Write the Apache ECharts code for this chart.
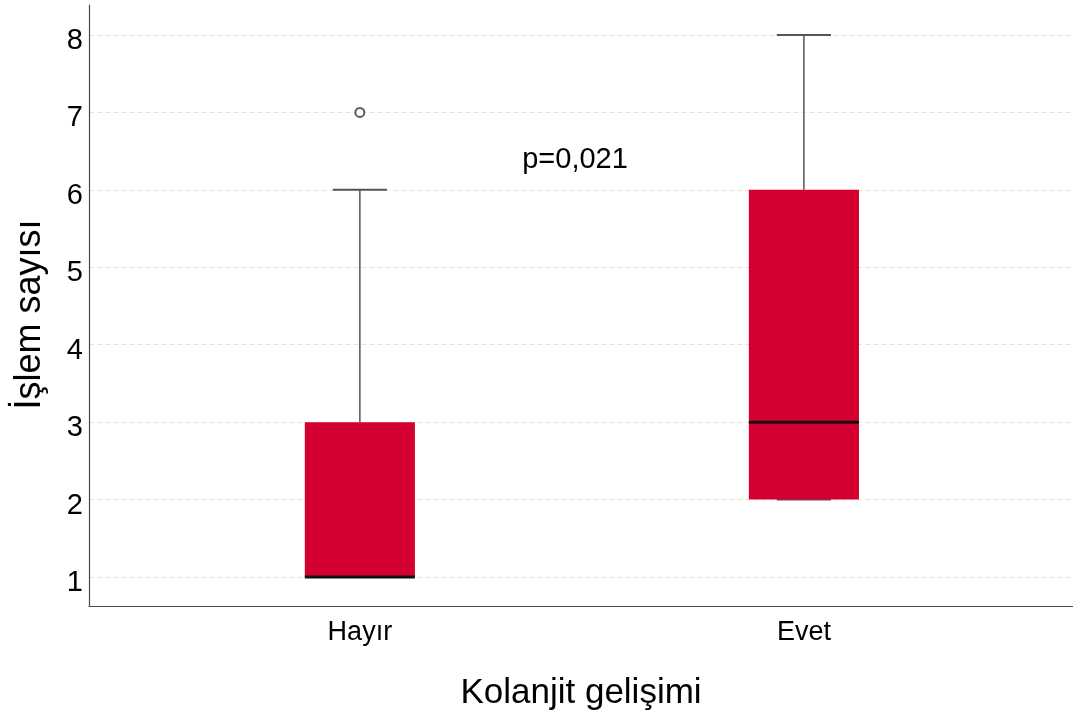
<!DOCTYPE html>
<html>
<head>
<meta charset="utf-8">
<script src="https://cdn.jsdelivr.net/npm/echarts@6/dist/echarts.min.js"></script>
<style>
  html, body { margin: 0; padding: 0; background: #fff; }
  #echarts { width: 1073px; height: 724px; }
</style>
</head>
<body>
<div id="echarts"></div>
<script>
// veriler
var categories = ['Hayır', 'Evet'];
var mins = [1, 2];
var q1s = [1, 2];
var medians = [1, 3];
var q3s = [3, 6];
var maxs = [6, 8];
var outliers = [[1, 7]]; // [kategori no (1'den), değer]
var pText = 'p=0,021';

var boxData = categories.map(function (c, i) {
  return [i + 1, mins[i], q1s[i], medians[i], q3s[i], maxs[i]];
});

var myChart = echarts.init(document.getElementById('echarts'));

var font = 'Liberation Sans, Arial, sans-serif';

option = {
  backgroundColor: '#fff',
  animation: false,
  grid: { left: 89, right: 0, top: 5, bottom: 118 },
  xAxis: {
    type: 'value',
    min: 0.39,
    max: 2.606,
    minInterval: 1,
    maxInterval: 1,
    name: 'Kolanjit gelişimi',
    nameLocation: 'middle',
    nameGap: 70,
    nameTextStyle: { fontSize: 35, color: '#000', fontFamily: font },
    axisLine: { show: true, lineStyle: { color: '#4a4a4a', width: 1.2 } },
    axisTick: { show: false },
    splitLine: { show: false },
    axisLabel: {
      margin: 13,
      fontSize: 27,
      color: '#000',
      fontFamily: font,
      showMinLabel: false,
      showMaxLabel: false,
      formatter: function (v) { return categories[v - 1] || ''; }
    }
  },
  yAxis: {
    type: 'value',
    min: 0.6255,
    max: 8.387,
    minInterval: 1,
    maxInterval: 1,
    name: 'İşlem sayısı',
    nameLocation: 'middle',
    nameGap: 41,
    nameTextStyle: { fontSize: 36, color: '#000', fontFamily: font, padding: [0, 18, 0, 0] },
    axisLine: { show: true, lineStyle: { color: '#4a4a4a', width: 1.2 } },
    axisTick: { show: false },
    axisLabel: {
      margin: 6,
      showMinLabel: false,
      showMaxLabel: false,
      formatter: function (v) { return '{t|' + v + '}'; },
      rich: {
        t: { fontSize: 29, color: '#000', fontFamily: font, padding: [12, 0, 0, 0] }
      }
    },
    splitLine: {
      show: true,
      showMinLine: false,
      showMaxLine: false,
      lineStyle: { color: '#ece4c4', type: [5, 3], width: 1.2 }
    }
  },
  series: [
    {
      type: 'custom',
      data: boxData,
      encode: { x: 0, y: [1, 2, 3, 4, 5] },
      renderItem: function (params, api) {
        var x = api.value(0);
        var unit = api.size([1, 0])[0];
        var halfBox = 0.124 * unit;
        var halfCap = 0.061 * unit;
        var pMin = api.coord([x, api.value(1)]);
        var pQ1 = api.coord([x, api.value(2)]);
        var pMed = api.coord([x, api.value(3)]);
        var pQ3 = api.coord([x, api.value(4)]);
        var pMax = api.coord([x, api.value(5)]);
        var cx = pMed[0];
        var whisker = { stroke: '#555', lineWidth: 1.5 };
        return {
          type: 'group',
          children: [
            { type: 'line', shape: { x1: cx, y1: pQ3[1], x2: cx, y2: pMax[1] }, style: whisker },
            { type: 'line', shape: { x1: cx, y1: pMin[1], x2: cx, y2: pQ1[1] }, style: whisker },
            { type: 'line', shape: { x1: cx - halfCap, y1: pMax[1], x2: cx + halfCap, y2: pMax[1] }, style: { stroke: '#555', lineWidth: 2 } },
            { type: 'line', shape: { x1: cx - halfCap, y1: pMin[1], x2: cx + halfCap, y2: pMin[1] }, style: { stroke: '#555', lineWidth: 2 } },
            {
              type: 'rect',
              shape: { x: cx - halfBox, y: pQ3[1], width: halfBox * 2, height: pQ1[1] - pQ3[1] },
              style: { fill: '#d50032' }
            },
            { type: 'line', shape: { x1: cx - halfBox, y1: pMed[1], x2: cx + halfBox, y2: pMed[1] }, style: { stroke: '#111', lineWidth: 3 } }
          ]
        };
      }
    },
    {
      type: 'scatter',
      data: outliers,
      symbol: 'emptyCircle',
      symbolSize: 9,
      itemStyle: { color: '#333', borderWidth: 1.5, borderColor: '#333' }
    }
  ],
  graphic: [
    {
      type: 'text',
      x: 575,
      y: 160,
      style: {
        text: pText,
        fontSize: 29,
        fontFamily: font,
        fill: '#000',
        align: 'center',
        verticalAlign: 'middle'
      }
    }
  ]
};

myChart.setOption(option);
</script>
</body>
</html>
